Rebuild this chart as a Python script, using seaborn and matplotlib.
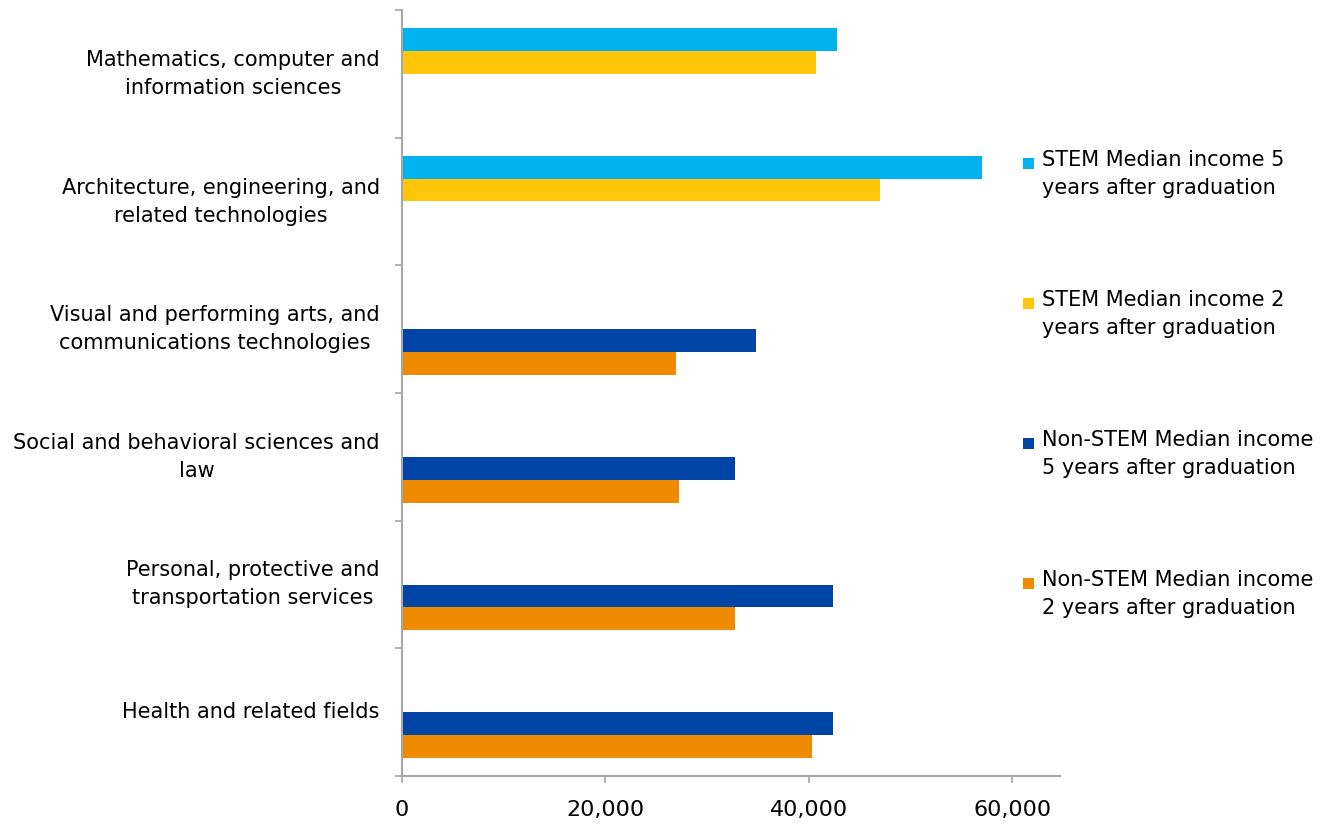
import matplotlib
matplotlib.use("Agg")
import matplotlib.pyplot as plt
from matplotlib.patches import Rectangle
from matplotlib.ticker import StrMethodFormatter, FixedLocator
import pandas as pd
import seaborn as sns

# Fields of study, top to bottom
fields = [
    "Mathematics, computer and\ninformation sciences",
    "Architecture, engineering, and\nrelated technologies",
    "Visual and performing arts, and\ncommunications technologies",
    "Social and behavioral sciences and\nlaw",
    "Personal, protective and\ntransportation services",
    "Health and related fields",
]

series = [
    "STEM Median income 5\nyears after graduation",
    "STEM Median income 2\nyears after graduation",
    "Non-STEM Median income\n5 years after graduation",
    "Non-STEM Median income\n2 years after graduation",
]

# Median income per field (None where the series does not apply)
stem_5yr = [42800, 57000, None, None, None, None]
stem_2yr = [40700, 47000, None, None, None, None]
nonstem_5yr = [None, None, 34800, 32700, 42400, 42400]
nonstem_2yr = [None, None, 26900, 27200, 32700, 40300]

colors = ["#00B2EE", "#FFC60B", "#0045A5", "#EE8B00"]

rows = []
for s, vals in zip(series, [stem_5yr, stem_2yr, nonstem_5yr, nonstem_2yr]):
    for f, v in zip(fields, vals):
        if v is not None:
            rows.append({"field": f, "series": s, "income": v})
df = pd.DataFrame(rows)

sns.set_style("white")
plt.rcParams["font.family"] = ["DejaVu Sans"]

fig = plt.figure(figsize=(13.28, 8.25), dpi=100)
ax = fig.add_axes([402 / 1328, 49 / 825, 658 / 1328, 766 / 825])

sns.barplot(
    data=df, y="field", x="income", hue="series",
    order=fields, hue_order=series, palette=colors,
    orient="h", width=0.72, dodge=True, errorbar=None,
    saturation=1, linewidth=0, legend=False, ax=ax,
)

ax.set_xlim(0, 64700)
ax.set_ylim(len(fields) - 0.5, -0.5)
ax.set_xlabel("")
ax.set_ylabel("")

ax.xaxis.set_major_locator(FixedLocator([0, 20000, 40000, 60000]))
ax.xaxis.set_major_formatter(StrMethodFormatter("{x:,.0f}"))
ax.tick_params(axis="x", which="major", length=5, width=1.2, color="#A6A6A6",
               pad=12, labelsize=16, labelcolor="black", bottom=True)

# category boundaries carry the tick marks; labels sit at band centres
ax.yaxis.set_minor_locator(FixedLocator([i - 0.5 for i in range(len(fields) + 1)]))
ax.tick_params(axis="y", which="minor", length=5, width=1.2, color="#A6A6A6", left=True)
ax.tick_params(axis="y", which="major", length=0, pad=16, labelsize=15, labelcolor="black")
for lab in ax.get_yticklabels():
    lab.set_multialignment("center")
    lab.set_linespacing(1.5)
    lab.set_verticalalignment("center")

for side in ["top", "right"]:
    ax.spines[side].set_visible(False)
for side in ["left", "bottom"]:
    ax.spines[side].set_color("#A6A6A6")
    ax.spines[side].set_linewidth(1.5)

# legend on the right, swatch aligned with the first line of each label
W, H = 1328, 825
for i, (s, c) in enumerate(zip(series, colors)):
    y_top = 158 + i * 140
    fig.patches.append(Rectangle((1023 / W, 1 - (y_top + 11) / H), 11 / W, 11 / H,
                                 transform=fig.transFigure, facecolor=c, edgecolor="none"))
    fig.text(1042 / W, 1 - (y_top - 8) / H, s, ha="left", va="top",
             fontsize=15, linespacing=1.5, color="black")

fig.savefig("out.png", dpi=100)
